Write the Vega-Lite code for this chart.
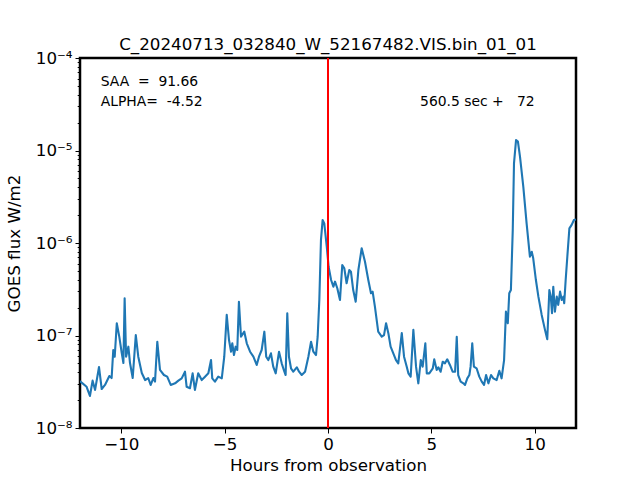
{
  "$schema": "https://vega.github.io/schema/vega-lite/v6.json",
  "width": 496,
  "height": 370,
  "autosize": "none",
  "padding": {"left": 80, "top": 58, "right": 64, "bottom": 52},
  "background": "white",
  "title": {
    "text": "C_20240713_032840_W_52167482.VIS.bin_01_01",
    "font": "DejaVu Sans",
    "fontSize": 16.7,
    "fontWeight": "normal",
    "color": "black",
    "anchor": "middle",
    "frame": "group",
    "offset": -4
  },
  "config": {
    "view": {"stroke": "black", "strokeWidth": 2.5},
    "axis": {
      "grid": false,
      "domain": false,
      "tickColor": "black",
      "tickWidth": 1,
      "labelFont": "DejaVu Sans",
      "labelFontSize": 16.7,
      "labelColor": "black",
      "titleFont": "DejaVu Sans",
      "titleFontSize": 16.7,
      "titleFontWeight": "normal",
      "titleColor": "black",
      "labelFlush": false,
      "labelOverlap": false
    }
  },
  "layer": [
    {
      "data": {
        "values": [
          {"h": -12.00, "f": 3.22e-8}, {"h": -11.92, "f": 3.09e-8}, {"h": -11.68, "f": 2.79e-8},
          {"h": -11.52, "f": 2.22e-8}, {"h": -11.39, "f": 3.25e-8}, {"h": -11.27, "f": 2.58e-8},
          {"h": -11.08, "f": 4.56e-8}, {"h": -10.95, "f": 2.64e-8}, {"h": -10.79, "f": 2.92e-8},
          {"h": -10.58, "f": 3.65e-8}, {"h": -10.47, "f": 3.47e-8}, {"h": -10.39, "f": 6.97e-8},
          {"h": -10.32, "f": 5.90e-8}, {"h": -10.22, "f": 1.355e-7}, {"h": -10.10, "f": 9.71e-8},
          {"h": -9.98, "f": 6.47e-8}, {"h": -9.90, "f": 5.04e-8}, {"h": -9.84, "f": 2.52e-7},
          {"h": -9.77, "f": 5.90e-8}, {"h": -9.66, "f": 7.57e-8}, {"h": -9.58, "f": 5.04e-8},
          {"h": -9.45, "f": 3.47e-8}, {"h": -9.30, "f": 1.01e-7}, {"h": -9.18, "f": 5.90e-8},
          {"h": -9.01, "f": 3.93e-8}, {"h": -8.85, "f": 3.30e-8}, {"h": -8.70, "f": 3.47e-8},
          {"h": -8.58, "f": 2.92e-8}, {"h": -8.45, "f": 3.47e-8}, {"h": -8.37, "f": 3.17e-8},
          {"h": -8.26, "f": 8.57e-8}, {"h": -8.13, "f": 4.24e-8}, {"h": -7.94, "f": 3.74e-8},
          {"h": -7.78, "f": 3.59e-8}, {"h": -7.61, "f": 2.92e-8}, {"h": -7.40, "f": 3.04e-8},
          {"h": -7.24, "f": 3.25e-8}, {"h": -7.08, "f": 3.44e-8}, {"h": -6.92, "f": 4.06e-8},
          {"h": -6.84, "f": 2.79e-8}, {"h": -6.68, "f": 2.69e-8}, {"h": -6.55, "f": 3.90e-8},
          {"h": -6.44, "f": 2.58e-8}, {"h": -6.28, "f": 3.90e-8}, {"h": -6.11, "f": 3.30e-8},
          {"h": -5.95, "f": 3.59e-8}, {"h": -5.79, "f": 3.90e-8}, {"h": -5.66, "f": 5.43e-8},
          {"h": -5.60, "f": 3.44e-8}, {"h": -5.47, "f": 3.17e-8}, {"h": -5.31, "f": 3.59e-8},
          {"h": -5.14, "f": 3.44e-8}, {"h": -5.02, "f": 5.90e-8}, {"h": -4.90, "f": 1.67e-7},
          {"h": -4.79, "f": 8.94e-8}, {"h": -4.69, "f": 6.68e-8}, {"h": -4.63, "f": 8.24e-8},
          {"h": -4.55, "f": 6.15e-8}, {"h": -4.47, "f": 7.57e-8}, {"h": -4.39, "f": 6.97e-8},
          {"h": -4.31, "f": 2.32e-7}, {"h": -4.21, "f": 9.71e-8}, {"h": -4.05, "f": 1.10e-7},
          {"h": -3.93, "f": 8.24e-8}, {"h": -3.77, "f": 6.68e-8}, {"h": -3.61, "f": 5.90e-8},
          {"h": -3.45, "f": 4.80e-8}, {"h": -3.34, "f": 5.90e-8}, {"h": -3.21, "f": 6.97e-8},
          {"h": -3.08, "f": 1.10e-7}, {"h": -2.99, "f": 5.90e-8}, {"h": -2.89, "f": 5.43e-8},
          {"h": -2.76, "f": 6.42e-8}, {"h": -2.65, "f": 4.60e-8}, {"h": -2.53, "f": 3.90e-8},
          {"h": -2.37, "f": 6.68e-8}, {"h": -2.24, "f": 5.00e-8}, {"h": -2.11, "f": 4.06e-8},
          {"h": -2.05, "f": 3.74e-8}, {"h": -1.97, "f": 1.74e-7}, {"h": -1.89, "f": 5.90e-8},
          {"h": -1.79, "f": 4.42e-8}, {"h": -1.68, "f": 4.06e-8}, {"h": -1.51, "f": 4.53e-8},
          {"h": -1.40, "f": 4.06e-8}, {"h": -1.27, "f": 3.74e-8}, {"h": -1.11, "f": 4.06e-8},
          {"h": -0.95, "f": 5.90e-8}, {"h": -0.82, "f": 8.57e-8}, {"h": -0.71, "f": 6.68e-8},
          {"h": -0.58, "f": 6.15e-8}, {"h": -0.50, "f": 9.71e-8}, {"h": -0.42, "f": 2.42e-7},
          {"h": -0.34, "f": 1.08e-6}, {"h": -0.26, "f": 1.77e-6}, {"h": -0.18, "f": 1.63e-6},
          {"h": -0.06, "f": 9.12e-7}, {"h": 0.03, "f": 5.54e-7}, {"h": 0.15, "f": 3.98e-7},
          {"h": 0.26, "f": 3.37e-7}, {"h": 0.34, "f": 3.82e-7}, {"h": 0.45, "f": 3.24e-7},
          {"h": 0.58, "f": 2.42e-7}, {"h": 0.69, "f": 5.78e-7}, {"h": 0.79, "f": 5.32e-7},
          {"h": 0.90, "f": 3.67e-7}, {"h": 1.03, "f": 5.11e-7}, {"h": 1.11, "f": 4.90e-7},
          {"h": 1.22, "f": 3.10e-7}, {"h": 1.34, "f": 2.32e-7}, {"h": 1.47, "f": 5.11e-7},
          {"h": 1.63, "f": 8.77e-7}, {"h": 1.79, "f": 6.28e-7}, {"h": 1.95, "f": 3.98e-7},
          {"h": 2.08, "f": 2.86e-7}, {"h": 2.16, "f": 2.98e-7}, {"h": 2.27, "f": 2.05e-7},
          {"h": 2.43, "f": 1.10e-7}, {"h": 2.60, "f": 9.71e-8}, {"h": 2.71, "f": 1.01e-7},
          {"h": 2.81, "f": 1.355e-7}, {"h": 2.92, "f": 1.06e-7}, {"h": 3.03, "f": 7.57e-8},
          {"h": 3.16, "f": 6.42e-8}, {"h": 3.29, "f": 5.43e-8}, {"h": 3.40, "f": 5.00e-8},
          {"h": 3.57, "f": 1.06e-7}, {"h": 3.68, "f": 5.90e-8}, {"h": 3.81, "f": 4.60e-8},
          {"h": 3.89, "f": 3.90e-8}, {"h": 4.00, "f": 3.59e-8}, {"h": 4.13, "f": 1.15e-7},
          {"h": 4.26, "f": 4.60e-8}, {"h": 4.37, "f": 3.04e-8}, {"h": 4.49, "f": 5.43e-8},
          {"h": 4.58, "f": 4.60e-8}, {"h": 4.71, "f": 8.24e-8}, {"h": 4.78, "f": 3.90e-8},
          {"h": 4.90, "f": 3.90e-8}, {"h": 5.07, "f": 4.42e-8}, {"h": 5.14, "f": 5.53e-8},
          {"h": 5.26, "f": 4.24e-8}, {"h": 5.34, "f": 4.53e-8}, {"h": 5.45, "f": 4.06e-8},
          {"h": 5.55, "f": 5.21e-8}, {"h": 5.66, "f": 5.00e-8}, {"h": 5.77, "f": 5.53e-8},
          {"h": 5.90, "f": 4.80e-8}, {"h": 6.03, "f": 4.06e-8}, {"h": 6.15, "f": 4.06e-8},
          {"h": 6.23, "f": 9.71e-8}, {"h": 6.30, "f": 3.74e-8}, {"h": 6.42, "f": 3.17e-8},
          {"h": 6.55, "f": 3.04e-8}, {"h": 6.63, "f": 2.92e-8}, {"h": 6.74, "f": 3.44e-8},
          {"h": 6.84, "f": 3.74e-8}, {"h": 6.90, "f": 4.60e-8}, {"h": 6.98, "f": 8.24e-8},
          {"h": 7.06, "f": 4.60e-8}, {"h": 7.19, "f": 4.42e-8}, {"h": 7.32, "f": 3.59e-8},
          {"h": 7.44, "f": 3.17e-8}, {"h": 7.55, "f": 2.92e-8}, {"h": 7.65, "f": 3.74e-8},
          {"h": 7.76, "f": 3.04e-8}, {"h": 7.89, "f": 3.74e-8}, {"h": 8.00, "f": 3.44e-8},
          {"h": 8.16, "f": 3.30e-8}, {"h": 8.29, "f": 4.16e-8}, {"h": 8.40, "f": 3.44e-8},
          {"h": 8.52, "f": 5.43e-8}, {"h": 8.61, "f": 1.81e-7}, {"h": 8.70, "f": 1.355e-7},
          {"h": 8.77, "f": 2.86e-7}, {"h": 8.85, "f": 3.10e-7}, {"h": 8.94, "f": 1.38e-6},
          {"h": 9.00, "f": 7.27e-6}, {"h": 9.10, "f": 1.30e-5}, {"h": 9.19, "f": 1.25e-5},
          {"h": 9.29, "f": 8.57e-6}, {"h": 9.45, "f": 4.06e-6}, {"h": 9.61, "f": 1.63e-6},
          {"h": 9.77, "f": 7.11e-7}, {"h": 9.86, "f": 8.05e-7}, {"h": 9.93, "f": 6.84e-7},
          {"h": 10.06, "f": 3.98e-7}, {"h": 10.18, "f": 2.63e-7}, {"h": 10.34, "f": 1.67e-7},
          {"h": 10.50, "f": 1.15e-7}, {"h": 10.61, "f": 9.10e-8}, {"h": 10.71, "f": 3.10e-7},
          {"h": 10.78, "f": 2.63e-7}, {"h": 10.84, "f": 1.74e-7}, {"h": 10.90, "f": 3.37e-7},
          {"h": 10.98, "f": 1.81e-7}, {"h": 11.07, "f": 2.63e-7}, {"h": 11.14, "f": 2.14e-7},
          {"h": 11.23, "f": 2.98e-7}, {"h": 11.31, "f": 2.42e-7}, {"h": 11.39, "f": 2.63e-7},
          {"h": 11.43, "f": 2.23e-7}, {"h": 11.50, "f": 3.98e-7}, {"h": 11.58, "f": 7.11e-7},
          {"h": 11.68, "f": 1.44e-6}, {"h": 11.79, "f": 1.57e-6}, {"h": 11.90, "f": 1.77e-6},
          {"h": 12.00, "f": 1.80e-6}
        ]
      },
      "mark": {"type": "line", "color": "#1f77b4", "strokeWidth": 2.1, "strokeJoin": "round", "clip": true},
      "encoding": {
        "x": {
          "field": "h",
          "type": "quantitative",
          "title": "Hours from observation",
          "scale": {"domain": [-12, 12], "nice": false, "zero": false},
          "axis": {"values": [-10, -5, 0, 5, 10], "tickSize": 5, "labelPadding": 3, "titlePadding": 5}
        },
        "y": {
          "field": "f",
          "type": "quantitative",
          "title": "GOES flux W/m2",
          "scale": {"type": "log", "domain": [1e-8, 1e-4], "nice": false},
          "axis": {
            "values": [1e-8, 2e-8, 3e-8, 4e-8, 5e-8, 6e-8, 7e-8, 8e-8, 9e-8,
                       1e-7, 2e-7, 3e-7, 4e-7, 5e-7, 6e-7, 7e-7, 8e-7, 9e-7,
                       1e-6, 2e-6, 3e-6, 4e-6, 5e-6, 6e-6, 7e-6, 8e-6, 9e-6,
                       1e-5, 2e-5, 3e-5, 4e-5, 5e-5, 6e-5, 7e-5, 8e-5, 9e-5, 1e-4],
            "labelExpr": "datum.value == 1e-8 ? '10⁻⁸' : datum.value == 1e-7 ? '10⁻⁷' : datum.value == 1e-6 ? '10⁻⁶' : datum.value == 1e-5 ? '10⁻⁵' : datum.value == 1e-4 ? '10⁻⁴' : ''",
            "tickSize": {"condition": {"test": "datum.value == 1e-8 || datum.value == 1e-7 || datum.value == 1e-6 || datum.value == 1e-5 || datum.value == 1e-4", "value": 5}, "value": 2.8},
            "labelPadding": 3,
            "titlePadding": 12
          }
        }
      }
    },
    {
      "data": {"values": [{"h": 0}]},
      "mark": {"type": "rule", "color": "red", "strokeWidth": 2},
      "encoding": {"x": {"field": "h", "type": "quantitative"}}
    },
    {
      "data": {
        "values": [
          {"h": -11, "f": 5e-5, "label": "SAA\u00a0\u00a0=\u00a0\u00a091.66"},
          {"h": -11, "f": 3e-5, "label": "ALPHA=\u00a0\u00a0-4.52"}
        ]
      },
      "mark": {"type": "text", "align": "left", "baseline": "alphabetic", "font": "DejaVu Sans", "fontSize": 13.9, "color": "black"},
      "encoding": {
        "x": {"field": "h", "type": "quantitative"},
        "y": {"field": "f", "type": "quantitative"},
        "text": {"field": "label"}
      }
    },
    {
      "data": {
        "values": [
          {"h": 10, "f": 3e-5, "label": "560.5 sec +\u00a0\u00a0\u00a072"}
        ]
      },
      "mark": {"type": "text", "align": "right", "baseline": "alphabetic", "font": "DejaVu Sans", "fontSize": 13.9, "color": "black"},
      "encoding": {
        "x": {"field": "h", "type": "quantitative"},
        "y": {"field": "f", "type": "quantitative"},
        "text": {"field": "label"}
      }
    }
  ]
}
